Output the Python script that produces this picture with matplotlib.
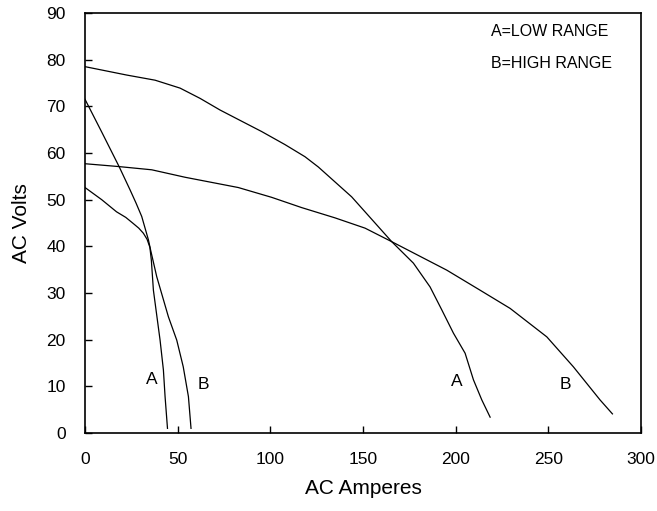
import matplotlib.pyplot as plt

plt.rcParams['font.family'] = ['Liberation Sans', 'DejaVu Sans']

# small curves (A = low range, B = high range)
low_a_amps = [0, 9, 17, 22, 26, 29, 31.5, 33.5, 35.0, 35.8, 36.9, 40.5, 42.3, 43.2, 44.5]
low_a_volts = [52.6, 50.0, 47.4, 46.2, 44.9, 43.9, 42.8, 41.5, 39.8, 37.0, 30.6, 19.9, 13.5, 7.8, 1.0]
low_b_amps = [0, 9, 18.5, 24.3, 27.5, 30.6, 34.2, 35.4, 38.7, 45, 49.5, 53, 55.8, 57.2]
low_b_volts = [71.5, 64.5, 57, 52.1, 49.3, 46.4, 41.4, 39.2, 33.5, 24.9, 19.9, 14.2, 7.8, 1.0]

# large curves
high_a_amps = [0, 22.5, 37.8, 51.3, 62.1, 72.9, 83.6, 95.3, 107.9, 118.7, 125.9,
               143.9, 161.9, 165.5, 177.2, 186.2, 192.5, 198.8, 205.1, 209.6, 214.1, 218.6]
high_a_volts = [78.5, 76.7, 75.6, 73.9, 71.7, 69.2, 67.0, 64.6, 61.8, 59.2, 57.0,
                50.6, 42.6, 41.0, 36.4, 31.3, 26.4, 21.4, 17.1, 11.4, 7.1, 3.4]
high_b_amps = [0, 18, 36, 54, 82.7, 100.7, 116.9, 134.9, 151.1, 165.5, 195.2,
               213.2, 229.4, 249.2, 263.5, 277.9, 284.6]
high_b_volts = [57.7, 57.1, 56.4, 54.8, 52.6, 50.5, 48.3, 46.1, 43.9, 41.0, 34.9,
                30.6, 26.7, 20.6, 14.2, 7.1, 4.1]

curve_labels = ['A', 'B', 'A', 'B']
label_x = [36, 64, 200.5, 259]
label_y = [11.5, 10.5, 11, 10.5]

fig = plt.figure(figsize=(6.57, 5.11), dpi=100)
ax = fig.add_axes([0.1294, 0.1526, 0.8462, 0.822])

for xs, ys in [(low_a_amps, low_a_volts), (low_b_amps, low_b_volts),
               (high_a_amps, high_a_volts), (high_b_amps, high_b_volts)]:
    ax.plot(xs, ys, color='black', lw=0.9)

for t, x, y in zip(curve_labels, label_x, label_y):
    ax.text(x, y, t, fontsize=12.5, ha='center', va='center')

ax.text(219, 86, 'A=LOW RANGE', fontsize=11.5, ha='left', va='center')
ax.text(219, 79.2, 'B=HIGH RANGE', fontsize=11.5, ha='left', va='center')

ax.set_xlim(0, 300)
ax.set_ylim(0, 90)
ax.set_xticks(range(0, 301, 50))
ax.set_yticks(range(0, 91, 10))
ax.tick_params(direction='in', length=5, width=1, labelsize=12.5)
ax.tick_params(axis='y', pad=14)
ax.tick_params(axis='x', pad=14)
for s in ax.spines.values():
    s.set_linewidth(1.2)

ax.set_xlabel('AC Amperes', fontsize=15, labelpad=8)
ax.set_ylabel('AC Volts', fontsize=15, labelpad=11)

fig.savefig('out.png', dpi=100)
